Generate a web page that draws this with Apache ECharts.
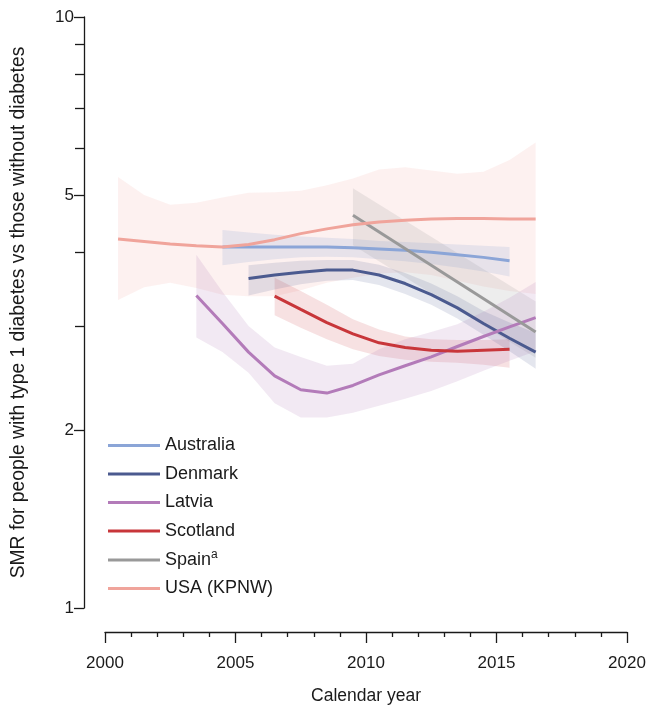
<!DOCTYPE html>
<html>
<head>
<meta charset="utf-8">
<script src="https://cdn.jsdelivr.net/npm/echarts@6/dist/echarts.min.js"></script>
<style>
html,body{margin:0;padding:0;background:#fff;}
#chart{width:646px;height:705px;}
</style>
</head>
<body>
<div id="chart"></div>
<script>
// ---- Data ----
const ausYears = [2004.5,2005.5,2006.5,2007.5,2008.5,2009.5,2010.5,2011.5,2012.5,2013.5,2014.5,2015.5];
const ausSMR   = [4.08,4.08,4.08,4.08,4.08,4.07,4.05,4.03,4.00,3.96,3.92,3.87];
const ausLo    = [3.80,3.85,3.89,3.92,3.93,3.92,3.89,3.86,3.82,3.77,3.71,3.64];
const ausHi    = [4.36,4.32,4.28,4.25,4.23,4.21,4.18,4.16,4.14,4.12,4.10,4.08];

const denYears = [2005.5,2006.5,2007.5,2008.5,2009.5,2010.5,2011.5,2012.5,2013.5,2014.5,2015.5,2016.5];
const denSMR   = [3.61,3.66,3.70,3.73,3.73,3.66,3.54,3.39,3.22,3.03,2.86,2.71];
const denLo    = [3.38,3.46,3.53,3.58,3.59,3.52,3.40,3.26,3.09,2.90,2.72,2.54];
const denHi    = [3.80,3.84,3.87,3.88,3.88,3.81,3.69,3.54,3.37,3.18,3.04,2.92];

const latYears = [2003.5,2004.5,2005.5,2006.5,2007.5,2008.5,2009.5,2010.5,2011.5,2012.5,2013.5,2014.5,2015.5,2016.5];
const latSMR   = [3.38,3.03,2.71,2.47,2.34,2.31,2.38,2.48,2.57,2.66,2.77,2.88,2.99,3.10];
const latLo    = [2.87,2.71,2.50,2.22,2.10,2.10,2.14,2.20,2.26,2.33,2.42,2.52,2.62,2.72];
const latHi    = [3.96,3.43,3.00,2.76,2.66,2.57,2.59,2.74,2.85,2.93,3.02,3.17,3.35,3.56];

const scoYears = [2006.5,2007.5,2008.5,2009.5,2010.5,2011.5,2012.5,2013.5,2014.5,2015.5];
const scoSMR   = [3.37,3.20,3.04,2.91,2.81,2.76,2.73,2.72,2.73,2.74];
const scoLo    = [3.13,2.98,2.85,2.74,2.67,2.63,2.61,2.60,2.58,2.55];
const scoHi    = [3.62,3.44,3.26,3.08,2.96,2.88,2.85,2.84,2.84,2.85];

const spaYears = [2009.5,2016.5];
const spaSMR   = [4.62,2.93];
const spaLo    = [4.11,2.65];
const spaHi    = [5.13,3.30];

const usaYears = [2000.5,2001.5,2002.5,2003.5,2004.5,2005.5,2006.5,2007.5,2008.5,2009.5,2010.5,2011.5,2012.5,2013.5,2014.5,2015.5,2016.5];
const usaSMR   = [4.21,4.17,4.13,4.10,4.08,4.12,4.20,4.30,4.38,4.45,4.50,4.53,4.55,4.56,4.56,4.55,4.55];
const usaLo    = [3.32,3.49,3.55,3.48,3.39,3.37,3.37,3.45,3.55,3.62,3.68,3.70,3.66,3.58,3.50,3.44,3.40];
const usaHi    = [5.36,5.00,4.81,4.85,4.95,5.04,5.05,5.08,5.19,5.33,5.52,5.57,5.50,5.43,5.47,5.73,6.13];

const yMajorTicks = [1,2,5,10];
const yMinorTicks = [3,4,6,7,8,9];

// ---- Chart ----
const FONT = 'Liberation Sans, Arial, sans-serif';
const INK = '#1a1a1a';
const countries = [
  {name:'Australia',  color:'#8ba5d7', band:'rgba(110,140,200,0.15)', x:ausYears, y:ausSMR, lo:ausLo, hi:ausHi},
  {name:'Denmark',    color:'#4b5a8f', band:'rgba(75,90,142,0.15)',   x:denYears, y:denSMR, lo:denLo, hi:denHi},
  {name:'Latvia',     color:'#b37bb9', band:'rgba(178,123,184,0.17)', x:latYears, y:latSMR, lo:latLo, hi:latHi},
  {name:'Scotland',   color:'#c8363a', band:'rgba(200,54,58,0.15)',   x:scoYears, y:scoSMR, lo:scoLo, hi:scoHi},
  {name:'Spain',      color:'#999999', band:'rgba(140,140,140,0.16)', x:spaYears, y:spaSMR, lo:spaLo, hi:spaHi},
  {name:'USA (KPNW)', color:'#f0a49b', band:'rgba(240,163,154,0.15)', x:usaYears, y:usaSMR, lo:usaLo, hi:usaHi}
];

function bandSeries(c) {
  return {
    type: 'custom',
    name: c.name + ' CI',
    silent: true,
    z: 1,
    xAxisIndex: 0, yAxisIndex: 0,
    data: c.x.map((x, i) => [x, c.lo[i], c.hi[i]]),
    encode: {x: 0, y: [1, 2]},
    renderItem: function (params, api) {
      if (params.dataIndex !== 0) return null;
      const pts = [];
      for (let i = 0; i < c.x.length; i++) pts.push(api.coord([c.x[i], c.hi[i]]));
      for (let i = c.x.length - 1; i >= 0; i--) pts.push(api.coord([c.x[i], c.lo[i]]));
      return {type: 'polygon', shape: {points: pts}, style: {fill: c.band}};
    }
  };
}

function lineSeries(c) {
  return {
    type: 'line',
    name: c.name,
    z: 3,
    xAxisIndex: 0, yAxisIndex: 0,
    data: c.x.map((x, i) => [x, c.y[i]]),
    showSymbol: false,
    symbol: 'none',
    color: c.color,
    lineStyle: {width: 3, color: c.color, cap: 'butt'},
    emphasis: {disabled: true}
  };
}

const series = [];
[...countries].reverse().forEach(c => series.push(bandSeries(c)));
countries.forEach(c => series.push(lineSeries(c)));

const chart = echarts.init(document.getElementById('chart'), null, {renderer: 'canvas'});
chart.setOption({
  animation: false,
  backgroundColor: '#ffffff',
  textStyle: {fontFamily: FONT},
  grid: {left: 105, right: 19, top: 17, bottom: 97, containLabel: false, outerBoundsMode: 'none'},
  legend: {
    data: countries.map(c => c.name),
    orient: 'vertical',
    left: 108,
    top: 435,
    padding: 0,
    itemGap: 7.5,
    itemWidth: 52,
    itemHeight: 3,
    itemTextGap: 5,
    icon: 'rect',
    selectedMode: false,
    formatter: function (name) { return name === 'Spain' ? 'Spain{sup|a}' : name; },
    textStyle: {
      fontFamily: FONT, fontSize: 18, color: INK, lineHeight: 21,
      rich: {sup: {fontFamily: FONT, fontSize: 12, color: INK, padding: [0, 0, 10, 0]}}
    }
  },
  xAxis: {
    type: 'value',
    min: 2000, max: 2020, interval: 5,
    offset: 24,
    name: 'Calendar year',
    nameLocation: 'middle',
    nameGap: 55,
    nameTextStyle: {fontFamily: FONT, fontSize: 17.5, color: INK},
    axisLine: {show: true, onZero: false, lineStyle: {color: INK, width: 1.3}},
    axisTick: {show: true, length: 11, lineStyle: {color: INK, width: 1.3}},
    minorTick: {show: true, splitNumber: 5, length: 5, lineStyle: {color: INK, width: 1.3}},
    splitLine: {show: false},
    minorSplitLine: {show: false},
    axisLabel: {fontFamily: FONT, fontSize: 17, color: INK, margin: 23,
      formatter: function (v) { return String(v); }}
  },
  yAxis: [
    {
      type: 'log', logBase: 10,
      min: 1, max: 10,
      position: 'left',
      offset: 21,
      name: 'SMR for people with type 1 diabetes vs those without diabetes',
      nameLocation: 'middle',
      nameGap: 56,
      nameRotate: 90,
      nameTextStyle: {fontFamily: FONT, fontSize: 19.3, color: INK},
      axisLine: {show: true, lineStyle: {color: INK, width: 1.3}},
      axisTick: {show: true, length: 10, customValues: yMajorTicks, lineStyle: {color: INK, width: 1.3}},
      splitLine: {show: false},
      minorTick: {show: false},
      axisLabel: {fontFamily: FONT, fontSize: 17, color: INK, margin: 10,
        customValues: yMajorTicks,
        formatter: function (v) { return String(Math.round(v)); }}
    },
    {
      type: 'log', logBase: 10,
      min: 1, max: 10,
      position: 'left',
      offset: 21,
      axisLine: {show: false},
      axisTick: {show: true, length: 9, customValues: yMinorTicks, lineStyle: {color: INK, width: 1.3}},
      splitLine: {show: false},
      axisLabel: {show: false}
    }
  ],
  series: series
});
</script>
</body>
</html>
